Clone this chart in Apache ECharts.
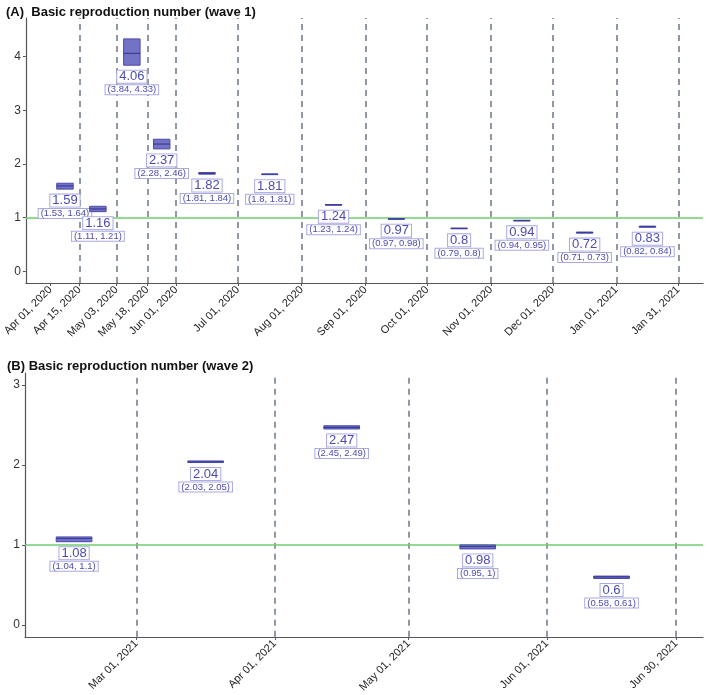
<!DOCTYPE html>
<html>
<head>
<meta charset="utf-8">
<script src="https://cdn.jsdelivr.net/npm/echarts@6/dist/echarts.min.js"></script>
<style>
  html, body { margin: 0; padding: 0; background: #fff; }
  #chart { width: 709px; height: 695px; }
</style>
</head>
<body>
<div id="chart"></div>
<script>
// ---------- Data: wave 1 ----------
const breaksA = ['2020-04-01','2020-04-15','2020-05-03','2020-05-18','2020-06-01','2020-07-01','2020-08-01','2020-09-01','2020-10-01','2020-11-01','2020-12-01','2021-01-01','2021-01-31'];
const tickLabelsA = ['2020-04-01','2020-04-15','2020-05-03','2020-05-18','2020-06-01','2020-07-01','2020-08-01','2020-09-01','2020-10-01','2020-11-01','2020-12-01','2021-01-01','2021-01-31'];
const dashedA = ['2020-04-15','2020-05-03','2020-05-18','2020-06-01','2020-07-01','2020-08-01','2020-09-01','2020-10-01','2020-11-01','2020-12-01','2021-01-01','2021-01-31'];
const medianA = [1.59, 1.16, 4.06, 2.37, 1.82, 1.81, 1.24, 0.97, 0.8, 0.94, 0.72, 0.83];
const lowerA  = [1.53, 1.11, 3.84, 2.28, 1.81, 1.8, 1.23, 0.97, 0.79, 0.94, 0.71, 0.82];
const upperA  = [1.64, 1.21, 4.33, 2.46, 1.84, 1.81, 1.24, 0.98, 0.8, 0.95, 0.73, 0.84];
const yTicksA = [0, 1, 2, 3, 4];
const xRangeA = ['2020-03-20', '2021-02-12'];
const yRangeA = [-0.22, 4.72];

// ---------- Data: wave 2 ----------
const breaksB = ['2021-02-01','2021-03-01','2021-04-01','2021-05-01','2021-06-01','2021-06-30'];
const tickLabelsB = ['2021-03-01','2021-04-01','2021-05-01','2021-06-01','2021-06-30'];
const dashedB = ['2021-03-01','2021-04-01','2021-05-01','2021-06-01','2021-06-30'];
const medianB = [1.08, 2.04, 2.47, 0.98, 0.6];
const lowerB  = [1.04, 2.03, 2.45, 0.95, 0.58];
const upperB  = [1.1, 2.05, 2.49, 1, 0.61];
const yTicksB = [0, 1, 2, 3];
const xRangeB = ['2021-02-04', '2021-07-06'];
const yRangeB = [-0.15, 3.15];

const threshold = 1;

// ---------- helpers ----------
const DAY = 86400000;
const BOX_HALF_DAYS = 4;
const MONTHS = ['Jan','Feb','Mar','Apr','May','Jun','Jul','Aug','Sep','Oct','Nov','Dec'];
function d(s) { const p = s.split('-'); return Date.UTC(+p[0], +p[1] - 1, +p[2]); }
function fmt(v) {
  const dt = new Date(Math.round(v));
  return MONTHS[dt.getUTCMonth()] + ' ' + String(dt.getUTCDate()).padStart(2, '0') + ', ' + dt.getUTCFullYear();
}
function boxData(breaks, med, lo, hi) {
  const out = [];
  for (let i = 0; i < med.length; i++) {
    const c = (d(breaks[i]) + d(breaks[i + 1])) / 2;
    out.push([c, med[i], lo[i], hi[i]]);
  }
  return out;
}

const TXT = '#4b4bb3';
const LBL_BORDER = '#a9a9e2';
function renderBox(params, api) {
  const c = api.value(0), m = api.value(1), lo = api.value(2), hi = api.value(3);
  const pLo = api.coord([c, lo]);
  const pHi = api.coord([c, hi]);
  const pM = api.coord([c, m]);
  const xL = api.coord([c - BOX_HALF_DAYS * DAY, lo])[0];
  const xR = api.coord([c + BOX_HALF_DAYS * DAY, lo])[0];
  return {
    type: 'group',
    children: [
      { type: 'rect', shape: { x: xL, y: pHi[1], width: xR - xL, height: pLo[1] - pHi[1] },
        style: { fill: '#7373c6', stroke: '#4a4aab', lineWidth: 1 } },
      { type: 'line', shape: { x1: xL, y1: pM[1], x2: xR, y2: pM[1] },
        style: { stroke: '#3b3b9c', lineWidth: 1.2 } },
      { type: 'text', x: pLo[0], y: pLo[1] + 11.5,
        style: { text: String(m), fill: TXT, font: '13px "Liberation Sans", Arial, sans-serif',
          align: 'center', verticalAlign: 'middle', backgroundColor: '#fff',
          borderColor: LBL_BORDER, borderWidth: 1, padding: [0, 2, -1, 2], lineHeight: 13 } },
      { type: 'text', x: pLo[0], y: pLo[1] + 24.5,
        style: { text: '(' + lo + ', ' + hi + ')', fill: TXT, font: '9.5px "Liberation Sans", Arial, sans-serif',
          align: 'center', verticalAlign: 'middle', backgroundColor: '#fff',
          borderColor: LBL_BORDER, borderWidth: 1, padding: [0, 2, -1, 2], lineHeight: 10 } }
    ]
  };
}

function xAxisCfg(gi, range, ticks) {
  const vals = ticks.map(d);
  return {
    type: 'value', gridIndex: gi, min: d(range[0]), max: d(range[1]), scale: true,
    axisLine: { show: true, onZero: false, lineStyle: { color: '#555', width: 1.2 } },
    axisTick: { show: true, customValues: vals, length: 3, lineStyle: { color: '#555' } },
    axisLabel: { show: true, customValues: vals, rotate: 45, formatter: fmt, margin: 5,
      color: '#222', fontSize: 11, fontFamily: '"Liberation Sans", Arial, sans-serif',
      showMinLabel: true, showMaxLabel: true },
    splitLine: { show: false }
  };
}
function yAxisCfg(gi, range, ticks) {
  return {
    type: 'value', gridIndex: gi, min: range[0], max: range[1],
    axisLine: { show: true, onZero: false, lineStyle: { color: '#555', width: 1.2 } },
    axisTick: { show: true, customValues: ticks, length: 3, lineStyle: { color: '#555' } },
    axisLabel: { show: true, customValues: ticks, margin: 5, color: '#333', fontSize: 12,
      fontFamily: '"Liberation Sans", Arial, sans-serif' },
    splitLine: { show: false }
  };
}
function refSeries(gi, dashed) {
  return {
    type: 'line', xAxisIndex: gi, yAxisIndex: gi, data: [], z: 1, silent: true,
    markLine: {
      silent: true, symbol: 'none', animation: false,
      label: { show: false },
      data: dashed.map(s => ({ xAxis: d(s), lineStyle: { type: [6, 5], color: '#6a7888', width: 1.5 } }))
        .concat([{ yAxis: threshold, lineStyle: { type: 'solid', color: '#6fcf72', width: 1.6 } }])
    }
  };
}

const chart = echarts.init(document.getElementById('chart'), null, { renderer: 'canvas' });
chart.setOption({
  animation: false,
  backgroundColor: '#fff',
  title: [
    { text: '(A)  Basic reproduction number (wave 1)', left: 1, top: 1,
      textStyle: { fontSize: 13, fontWeight: 'bold', color: '#111', fontFamily: '"Liberation Sans", Arial, sans-serif' } },
    { text: '(B) Basic reproduction number (wave 2)', left: 2, top: 355,
      textStyle: { fontSize: 13, fontWeight: 'bold', color: '#111', fontFamily: '"Liberation Sans", Arial, sans-serif' } }
  ],
  grid: [
    { left: 25, right: 6, top: 18, bottom: 412 },
    { left: 25, right: 6, top: 373, bottom: 57 }
  ],
  xAxis: [xAxisCfg(0, xRangeA, tickLabelsA), xAxisCfg(1, xRangeB, tickLabelsB)],
  yAxis: [yAxisCfg(0, yRangeA, yTicksA), yAxisCfg(1, yRangeB, yTicksB)],
  series: [
    refSeries(0, dashedA),
    refSeries(1, dashedB),
    { type: 'custom', xAxisIndex: 0, yAxisIndex: 0, z: 5, clip: false,
      renderItem: renderBox, data: boxData(breaksA, medianA, lowerA, upperA), encode: { x: 0, y: [1, 2, 3] } },
    { type: 'custom', xAxisIndex: 1, yAxisIndex: 1, z: 5, clip: false,
      renderItem: renderBox, data: boxData(breaksB, medianB, lowerB, upperB), encode: { x: 0, y: [1, 2, 3] } }
  ]
});
</script>
</body>
</html>
